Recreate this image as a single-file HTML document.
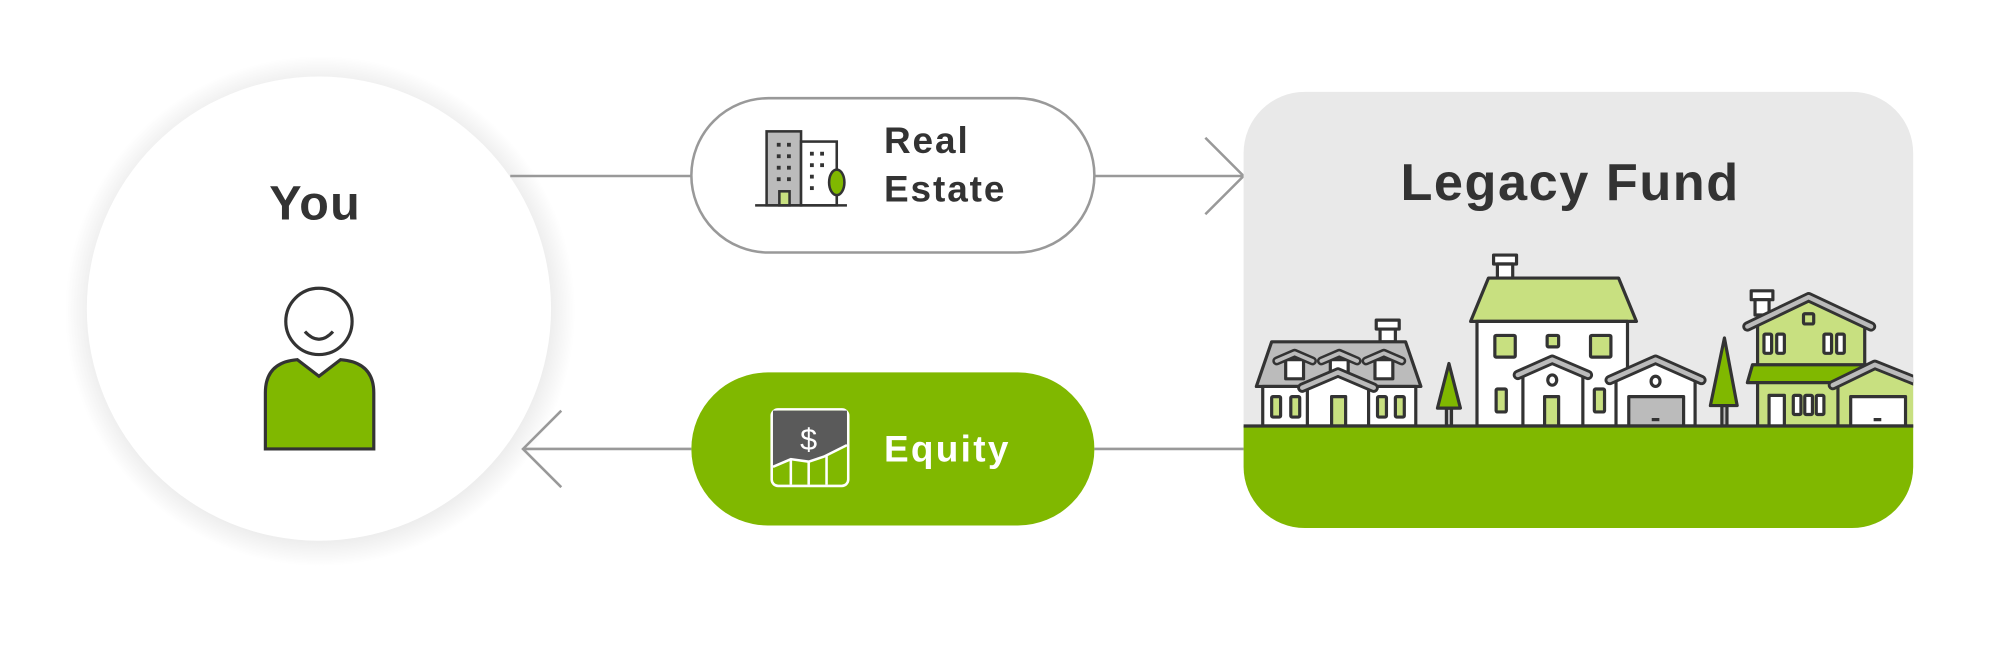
<!DOCTYPE html>
<html><head><meta charset="utf-8"><style>
html,body{margin:0;padding:0;background:#fff;width:2000px;height:653px;overflow:hidden}
svg{display:block}
text{font-family:"Liberation Sans",sans-serif;font-weight:bold;fill:#333}
</style></head><body>
<svg width="2000" height="653" viewBox="0 0 1568 512" xmlns="http://www.w3.org/2000/svg">
<defs>
<radialGradient id="sh" cx="0.5" cy="0.5" r="0.5">
<stop offset="0.88" stop-color="#d8d8d8"/><stop offset="1" stop-color="#fff"/>
</radialGradient>
<clipPath id="box"><rect x="975" y="72" width="525" height="342" rx="48"/></clipPath>
</defs>
<circle cx="251" cy="244" r="200" fill="url(#sh)" opacity="0.55"/>
<circle cx="250" cy="242" r="182" fill="#fff"/>
<text x="247" y="172" font-size="38" letter-spacing="1" text-anchor="middle">You</text>
<circle cx="250" cy="252" r="26" fill="#fff" stroke="#333" stroke-width="2.5"/>
<path d="M239,260 Q250,272 261,260" fill="none" stroke="#333" stroke-width="2.5"/>
<path d="M208,352 L208,308 Q208,284 233,282 L250,295 L267,282 Q293,284 293,308 L293,352 Z" fill="#80b800" stroke="#333" stroke-width="2.5"/>
<g stroke="#999" stroke-width="2" fill="none">
<line x1="400" y1="138" x2="542" y2="138"/>
<line x1="858" y1="138" x2="975" y2="138"/>
<polyline points="945,108 975,138 945,168"/>
<line x1="410" y1="352" x2="542" y2="352"/>
<line x1="858" y1="352" x2="975" y2="352"/>
<polyline points="440,322 410,352 440,382"/>
</g>
<rect x="542" y="77" width="316" height="121" rx="60.5" fill="#fff" stroke="#999" stroke-width="2"/>
<g stroke="#333" stroke-width="2">
<rect x="601" y="103" width="27" height="58" fill="#bbb"/>
<rect x="628" y="111" width="28" height="50" fill="#fff"/>
<rect x="611" y="150" width="8" height="11" fill="#c8e080"/>
<line x1="592" y1="161" x2="664" y2="161"/>
<line x1="656" y1="145" x2="656" y2="161"/>
<ellipse cx="656" cy="143" rx="6" ry="10" fill="#80b800"/>
</g>
<g fill="#333">
<rect x="609" y="112" width="3" height="3"/><rect x="617" y="112" width="3" height="3"/>
<rect x="609" y="121" width="3" height="3"/><rect x="617" y="121" width="3" height="3"/>
<rect x="609" y="130" width="3" height="3"/><rect x="617" y="130" width="3" height="3"/>
<rect x="609" y="139" width="3" height="3"/><rect x="617" y="139" width="3" height="3"/>
<rect x="635" y="119" width="3" height="3"/><rect x="643" y="119" width="3" height="3"/>
<rect x="635" y="128" width="3" height="3"/><rect x="643" y="128" width="3" height="3"/>
<rect x="635" y="137" width="3" height="3"/>
<rect x="635" y="146" width="3" height="3"/>
</g>
<text x="693" y="120" font-size="29" letter-spacing="1.5">Real</text>
<text x="693" y="158" font-size="29" letter-spacing="1.5">Estate</text>
<rect x="542" y="292" width="316" height="120" rx="60" fill="#80b800"/>
<rect x="605" y="321" width="60" height="60" rx="5" fill="#80b800" stroke="#fff" stroke-width="2"/>
<path d="M606,322 L664,322 L664,349 L646,358 L634,362 L620,360 L606,366 Z" fill="#5a5a5a"/>
<polyline points="606,366 620,360 634,362 646,358 664,349" fill="none" stroke="#fff" stroke-width="2"/>
<g stroke="#fff" stroke-width="2"><line x1="620" y1="360" x2="620" y2="380"/><line x1="634" y1="362" x2="634" y2="380"/><line x1="648" y1="357" x2="648" y2="380"/></g>
<text x="634" y="353" font-size="24" text-anchor="middle" style="fill:#fff;font-weight:normal">$</text>
<text x="693" y="362" font-size="29" letter-spacing="1.8" style="fill:#fff">Equity</text>
<rect x="975" y="72" width="525" height="342" rx="48" fill="#e9e9e9"/>
<text x="1231" y="157" font-size="41" letter-spacing="1.2" text-anchor="middle">Legacy Fund</text>
<g clip-path="url(#box)" stroke="#333" stroke-width="2.5" stroke-linejoin="round">
<rect x="1079" y="251" width="18" height="7" fill="#fff"/><rect x="1082" y="258" width="12" height="10" fill="#fff"/>
<path d="M997,268 L1102,268 L1114,303 L985,303 Z" fill="#bbb"/>
<rect x="990" y="303" width="120" height="31" fill="#fff"/>
<g fill="#fff"><rect x="1008" y="282" width="14" height="15"/><rect x="1043" y="282" width="14" height="15"/><rect x="1078" y="282" width="14" height="15"/></g>
<g fill="none" stroke="#333" stroke-width="7" stroke-linecap="round"><polyline points="1001,283 1015,277 1029,283"/><polyline points="1036,283 1050,277 1064,283"/><polyline points="1071,283 1085,277 1099,283"/></g>
<g fill="none" stroke="#bbb" stroke-width="3" stroke-linecap="round"><polyline points="1001,283 1015,277 1029,283"/><polyline points="1036,283 1050,277 1064,283"/><polyline points="1071,283 1085,277 1099,283"/></g>
<path d="M1025,304 L1049,294 L1073,304 L1073,334 L1025,334 Z" fill="#fff"/>
<polyline points="1021,304 1049,292 1077,304" fill="none" stroke="#333" stroke-width="8" stroke-linecap="round"/>
<polyline points="1021,304 1049,292 1077,304" fill="none" stroke="#bbb" stroke-width="3.5" stroke-linecap="round"/>
<rect x="1044" y="311" width="11" height="23" fill="#c8e080"/>
<g fill="#c8e080"><rect x="997" y="311" width="7" height="16" rx="1"/><rect x="1012" y="311" width="7" height="16" rx="1"/><rect x="1080" y="311" width="7" height="16" rx="1"/><rect x="1094" y="311" width="7" height="16" rx="1"/></g>
<rect x="1134" y="320" width="4" height="14" fill="#bbb"/>
<path d="M1136,285 L1145,320 L1127,320 Z" fill="#80b800"/>
<rect x="1171" y="200" width="18" height="7" fill="#fff"/><rect x="1174" y="207" width="12" height="11" fill="#fff"/>
<path d="M1167,218 L1269,218 L1283,252 L1153,252 Z" fill="#c8e080"/>
<rect x="1158" y="252" width="118" height="82" fill="#fff"/>
<g fill="#c8e080"><rect x="1172" y="263" width="16" height="17" rx="1"/><rect x="1213" y="263" width="9" height="9" rx="1"/><rect x="1247" y="263" width="16" height="17" rx="1"/><rect x="1173" y="305" width="8" height="18" rx="1"/><rect x="1250" y="305" width="8" height="18" rx="1"/></g>
<path d="M1194,294 L1217,284 L1241,294 L1241,334 L1194,334 Z" fill="#fff"/>
<polyline points="1190,294 1217,282 1245,294" fill="none" stroke="#333" stroke-width="8" stroke-linecap="round"/>
<polyline points="1190,294 1217,282 1245,294" fill="none" stroke="#bbb" stroke-width="3.5" stroke-linecap="round"/>
<ellipse cx="1217" cy="298" rx="3.5" ry="4" fill="#fff"/>
<rect x="1211" y="311" width="11" height="23" fill="#c8e080"/>
<path d="M1267,298 L1298,284 L1329,298 L1329,334 L1267,334 Z" fill="#fff"/>
<polyline points="1262,298 1298,282 1334,298" fill="none" stroke="#333" stroke-width="8" stroke-linecap="round"/>
<polyline points="1262,298 1298,282 1334,298" fill="none" stroke="#bbb" stroke-width="3.5" stroke-linecap="round"/>
<ellipse cx="1298" cy="299" rx="3.5" ry="4" fill="#fff"/>
<rect x="1277" y="311" width="43" height="23" fill="#bbb"/>
<line x1="1295" y1="329" x2="1301" y2="329"/>
<rect x="1350" y="318" width="4" height="16" fill="#bbb"/>
<path d="M1352,265 L1362,318 L1341,318 Z" fill="#80b800"/>
<rect x="1373" y="228" width="17" height="7" fill="#fff"/><rect x="1376" y="235" width="11" height="12" fill="#fff"/>
<path d="M1378,255 L1418,236 L1462,255 L1462,334 L1378,334 Z" fill="#c8e080"/>
<polyline points="1370,256 1418,233 1467,256" fill="none" stroke="#333" stroke-width="8" stroke-linecap="round"/>
<polyline points="1370,256 1418,233 1467,256" fill="none" stroke="#bbb" stroke-width="3.5" stroke-linecap="round"/>
<rect x="1414" y="246" width="8" height="8" rx="1" fill="#c8e080"/>
<g fill="#fff"><rect x="1383" y="262" width="6" height="15" rx="1"/><rect x="1393" y="262" width="6" height="15" rx="1"/><rect x="1430" y="262" width="6" height="15" rx="1"/><rect x="1440" y="262" width="6" height="15" rx="1"/></g>
<path d="M1374,286 L1462,286 L1466,300 L1370,300 Z" fill="#80b800"/>
<rect x="1387" y="310" width="12" height="24" fill="#fff"/>
<g fill="#fff"><rect x="1406" y="310" width="6" height="15" rx="1"/><rect x="1415" y="310" width="6" height="15" rx="1"/><rect x="1424" y="310" width="6" height="15" rx="1"/></g>
<path d="M1441,302 L1470,289 L1510,302 L1510,334 L1441,334 Z" fill="#c8e080"/>
<polyline points="1437,302 1470,286 1510,302" fill="none" stroke="#333" stroke-width="8" stroke-linecap="round"/>
<polyline points="1437,302 1470,286 1510,302" fill="none" stroke="#bbb" stroke-width="3.5" stroke-linecap="round"/>
<rect x="1451" y="311" width="43" height="23" fill="#fff"/>
<line x1="1469" y1="329" x2="1475" y2="329"/>
<rect x="970" y="334" width="540" height="90" fill="#80b800" stroke="none"/>
<line x1="970" y1="334" x2="1510" y2="334"/>
</g>
</svg>
</body></html>
